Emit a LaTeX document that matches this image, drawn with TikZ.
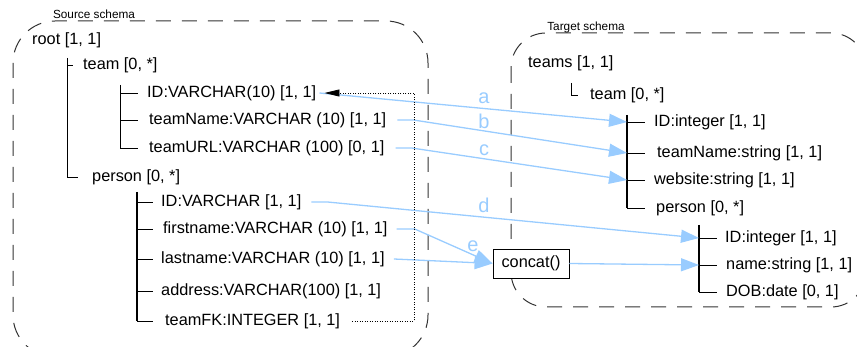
\documentclass[tikz,border=0pt]{standalone}
\usepackage{fontspec}
\setmainfont{Liberation Sans}
\usetikzlibrary{arrows.meta}
\definecolor{mapblue}{RGB}{153,204,255}
\begin{document}
\begin{tikzpicture}[x=1pt,y=-1pt,
  txt/.style={font=\fontsize{16.3}{18}\selectfont, inner sep=0pt, anchor=west},
  lbl/.style={font=\fontsize{20}{22}\selectfont, text=mapblue, inner sep=0pt},
  schemacap/.style={font=\fontsize{11.8}{13}\selectfont, inner sep=0pt},
  schema/.style={draw=black!80, line width=1pt, dash pattern=on 15pt off 11pt},
  tree/.style={draw=black, line width=0.9pt},
  treethick/.style={draw=black, line width=1.6pt},
  map/.style={draw=mapblue, line width=1.3pt, -{Triangle[length=18pt,width=13pt]}},
  fk/.style={draw=black, line width=0.8pt, dash pattern=on 1pt off 1.5pt, -{Triangle[length=15pt,width=7pt]}}
]
\useasboundingbox (0,0) rectangle (857,347);

% schema boxes
\draw[schema, rounded corners=42pt] (13,21) rectangle (428,357);
\draw[schema, rounded corners=35pt] (511,33) rectangle (866,307);
\node[schemacap] (srccap) at (94,14) {Source schema};
\node[schemacap] (tgtcap) at (586,27) {Target schema};

% source tree texts
\node[txt] (sroot) at (32,40) {root [1, 1]};
\node[txt] (steam) at (83,65) {team [0, *]};
\node[txt] (sid) at (147,93) {ID:VARCHAR(10) [1, 1]};
\node[txt] (sname) at (149,120) {teamName:VARCHAR (10) [1, 1]};
\node[txt] (surl) at (149,148) {teamURL:VARCHAR (100) [0, 1]};
\node[txt] (sperson) at (92,177) {person [0, *]};
\node[txt] (spid) at (161,202) {ID:VARCHAR [1, 1]};
\node[txt] (sfirst) at (163,229) {firstname:VARCHAR (10) [1, 1]};
\node[txt] (slast) at (161,259) {lastname:VARCHAR (10) [1, 1]};
\node[txt] (saddr) at (161,291) {address:VARCHAR(100) [1, 1]};
\node[txt] (sfk) at (165,321) {teamFK:INTEGER [1, 1]};

% source tree lines
\coordinate (sv0) at (67,58);
\coordinate (sv1) at (120,85);
\coordinate (sv2) at (137,192);
\draw[tree] (sv0) -- (sv0 |- sperson.west) -- ([xshift=-14pt]sperson.west);
\draw[tree] (sv0 |- steam.west) -- ([xshift=-10pt]steam.west);
\draw[tree] (sv1) -- (sv1 |- surl.west) -- ([xshift=-11pt]surl.west);
\draw[tree] (sv1 |- sid.west) -- ([xshift=-9pt]sid.west);
\draw[tree] (sv1 |- sname.west) -- ([xshift=-11pt]sname.west);
\draw[treethick] (sv2) -- (sv2 |- sfk.west);
\draw[tree] (sv2 |- spid.west) -- ([xshift=-8pt]spid.west);
\draw[tree] (sv2 |- sfirst.west) -- ([xshift=-10pt]sfirst.west);
\draw[tree] (sv2 |- slast.west) -- ([xshift=-8pt]slast.west);
\draw[tree] (sv2 |- saddr.west) -- ([xshift=-8pt]saddr.west);
\draw[tree] (sv2 |- sfk.west) -- ([xshift=-12pt]sfk.west);

% target tree texts
\node[txt] (tteams) at (528,63) {teams [1, 1]};
\node[txt] (tteam) at (590,95) {team [0, *]};
\node[txt] (tid) at (654,122) {ID:integer [1, 1]};
\node[txt] (tname) at (657,153) {teamName:string [1, 1]};
\node[txt] (tweb) at (654,180) {website:string [1, 1]};
\node[txt] (tperson) at (656,208) {person [0, *]};
\node[txt] (tpid) at (725,238) {ID:integer [1, 1]};
\node[txt] (tpname) at (726,265) {name:string [1, 1]};
\node[txt] (tdob) at (726,292) {DOB:date [0, 1]};

% target tree lines
\coordinate (tv0) at (571,83);
\coordinate (tv1) at (627,115);
\coordinate (tv2) at (699,225);
\draw[tree] (tv0) -- (tv0 |- tteam.west) -- ([xshift=-12pt]tteam.west);
\draw[treethick] (tv1) -- (tv1 |- tperson.west);
\draw[tree] (tv1 |- tperson.west) -- ([xshift=-11pt]tperson.west);
\draw[tree] (tv1 |- tid.west) -- ([xshift=-9pt]tid.west);
\draw[tree] (tv1 |- tname.west) -- ([xshift=-12pt]tname.west);
\draw[tree] (tv1 |- tweb.west) -- ([xshift=-9pt]tweb.west);
\draw[treethick] (tv2) -- (tv2 |- tdob.west);
\draw[tree] (tv2 |- tpid.west) -- ([xshift=-8pt]tpid.west);
\draw[tree] (tv2 |- tpname.west) -- ([xshift=-9pt]tpname.west);
\draw[tree] (tv2 |- tdob.west) -- ([xshift=-9pt]tdob.west);

% concat function
\node[draw=black, line width=0.9pt, fill=white, minimum width=76pt, minimum height=29pt,
      font=\fontsize{16.3}{18}\selectfont, inner sep=0pt] (concat) at (531,263.5) {concat()};

% mappings
\draw[map] ([xshift=3pt]sid.east) -- (tv1 |- tid.west);
\draw[map] ([xshift=11pt]sname.east) -- ++(16,0) -- (tv1 |- tname.west);
\draw[map] ([xshift=11pt]surl.east) -- ++(16,0) -- (tv1 |- tweb.west);
\draw[map] ([xshift=10pt]spid.east) -- ++(16,0) -- (tv2 |- tpid.west);
\draw[map] ([xshift=9pt]sfirst.east) -- ++(18,0) -- (concat.west);
\draw[map] ([xshift=9pt]slast.east) -- (concat.west);
\draw[map] (concat.east) -- (tv2 |- tpname.west);

% foreign key dotted connector
\coordinate (fkx) at (414,0);
\draw[fk] ([xshift=12pt]sfk.east) -- (fkx |- sfk.east) -- (fkx |- sid.east) -- ([xshift=8pt]sid.east);

% mapping labels
\node[lbl] (la) at (484,98) {a};
\node[lbl] (lb) at (484,121) {b};
\node[lbl] (lc) at (484,150) {c};
\node[lbl] (ld) at (484,205) {d};
\node[lbl] (le) at (473,246) {e};
\end{tikzpicture}
\end{document}
